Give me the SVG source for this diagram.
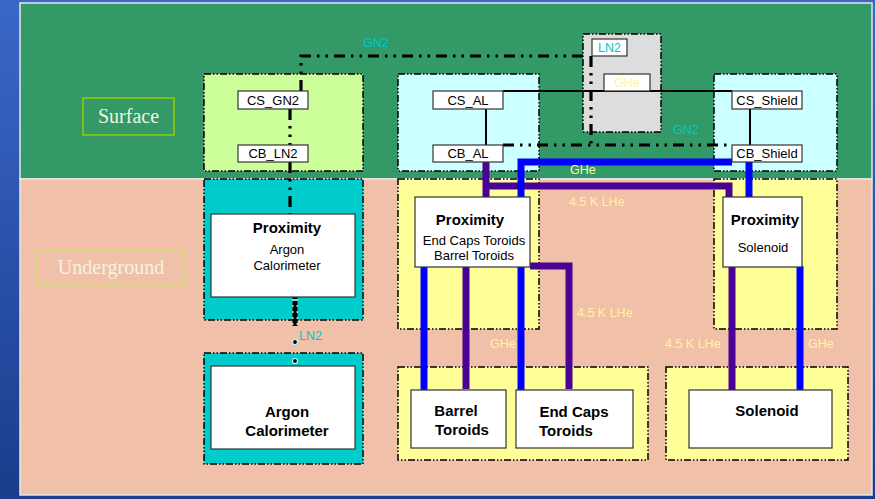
<svg xmlns="http://www.w3.org/2000/svg" width="875" height="499" viewBox="0 0 875 499">
<defs>
<linearGradient id="bg" x1="0" y1="0" x2="0" y2="1">
<stop offset="0" stop-color="#3a68c8"/>
<stop offset="1" stop-color="#1a3c8c"/>
</linearGradient>
<style>
.bd{stroke:#000;stroke-width:1.5;stroke-dasharray:7 2 1.5 2 1.5 2;}
.wb{fill:#fff;stroke:#333;stroke-width:1.2;}
.t{font-family:"Liberation Sans",Arial,sans-serif;fill:#000;text-anchor:middle;}
.sm{font-size:13px;}
.b{font-weight:bold;font-size:15px;}
.lbl{font-family:"Liberation Sans",Arial,sans-serif;font-size:12.5px;fill:#fff5a0;}
.cy{font-family:"Liberation Sans",Arial,sans-serif;font-size:12.5px;fill:#00c8c8;}
.gn{fill:none;stroke:#000;stroke-width:3.2;stroke-dasharray:11 6 2.5 6 2.5 6;}
.blu{fill:none;stroke:#0000ff;stroke-width:7;}
.pur{fill:none;stroke:#4b0096;stroke-width:7;}
.sv{font-family:"Liberation Serif","DejaVu Serif",serif;font-size:20px;fill:#f4f4e0;text-anchor:middle;}
</style>
</defs>
<rect x="0" y="0" width="875" height="499" fill="url(#bg)"/>
<rect x="20" y="3" width="852" height="176" fill="#339966" stroke="#e8e8e8" stroke-width="1.5"/>
<rect x="20" y="179" width="852" height="316" fill="#f0c0a8" stroke="#e8e8e8" stroke-width="1.5"/>

<g id="surface-label">
<rect x="83" y="98" width="91" height="37" fill="none" stroke="#99cc00" stroke-width="1.5"/>
<text class="sv" x="128.5" y="123">Surface</text>
</g>
<g id="underground-label">
<rect x="37" y="250" width="148" height="35" fill="none" stroke="#ccdd66" stroke-width="1.5"/>
<text class="sv" x="111" y="274">Underground</text>
</g>

<g id="gn2-group">
<rect class="bd" x="204" y="74" width="159" height="97" fill="#ccff99"/>
</g>
<g id="al-group">
<rect class="bd" x="398" y="74" width="141" height="97" fill="#ccffff"/>
</g>
<g id="ln2-supply">
<rect class="bd" x="583" y="34" width="78" height="98" fill="#dddddd"/>
</g>
<g id="shield-group">
<rect class="bd" x="714" y="74" width="123" height="97" fill="#ccffff"/>
</g>
<g id="prox-argon-group">
<rect class="bd" x="204" y="179" width="159" height="141" fill="#00cccc"/>
</g>
<g id="prox-toroid-group">
<rect class="bd" x="398" y="179" width="141" height="150" fill="#ffff99"/>
</g>
<g id="prox-solenoid-group">
<rect class="bd" x="714" y="179" width="123" height="150" fill="#ffff99"/>
</g>
<g id="argon-group">
<rect class="bd" x="204" y="353" width="159" height="111" fill="#00cccc"/>
</g>
<g id="toroids-group">
<rect class="bd" x="398" y="367" width="250" height="93" fill="#ffff99"/>
</g>
<g id="solenoid-group">
<rect class="bd" x="666" y="367" width="182" height="93" fill="#ffff99"/>
</g>

<g id="connectors">
<path class="gn" d="M301 91 V56 H585"/>
<path class="gn" d="M591 56 V145"/>
<path class="gn" d="M503 145 H730"/>
<path class="gn" d="M290 109 V145"/>
<path class="gn" d="M290 162 V214"/>
<path d="M295 297 V326" fill="none" stroke="#000" stroke-width="5"/>
<path d="M295 299 V326" fill="none" stroke="#bff" stroke-width="6" stroke-dasharray="2 4" stroke-opacity="0.8"/>
<path d="M295 301 V326" fill="none" stroke="#000" stroke-width="3"/>
<circle cx="295" cy="342" r="2.5" fill="#000" stroke="#bff" stroke-width="1.2"/>
<circle cx="295" cy="361" r="2.5" fill="#000" stroke="#bff" stroke-width="1.2"/>
<path d="M503 91 H732" stroke="#000" stroke-width="2" fill="none"/>
<path d="M486 109 V145" stroke="#000" stroke-width="2" fill="none"/>
<path d="M750 109 V145" stroke="#000" stroke-width="2" fill="none"/>
<path class="pur" d="M486 162 V197"/>
<path class="pur" d="M486 186 H729 V197"/>
<path class="blu" d="M732 162 H521 V390"/>
<path class="blu" d="M749 162 V197"/>
<path class="blu" d="M424 267 V390"/>
<path class="pur" d="M466 267 V389"/>
<path class="pur" d="M530 266 H569 V389"/>
<path class="pur" d="M732 267 V390"/>
<path class="blu" d="M800 266 V390"/>
<text class="cy" x="363" y="47">GN2</text>
<text class="cy" x="673" y="134">GN2</text>
<text class="cy" x="299" y="340">LN2</text>
<text class="lbl" x="570" y="174">GHe</text>
<text class="lbl" x="569" y="206">4.5 K LHe</text>
<text class="lbl" x="577" y="317">4.5 K LHe</text>
<text class="lbl" x="490" y="348">GHe</text>
<text class="lbl" x="665" y="348">4.5 K LHe</text>
<text class="lbl" x="808" y="348">GHe</text>
</g>

<g id="cs-gn2"><rect class="wb" x="238" y="91" width="70" height="18"/><text class="t sm" x="273" y="104.5">CS_GN2</text></g>
<g id="cb-ln2"><rect class="wb" x="238" y="145" width="70" height="17"/><text class="t sm" x="273" y="158">CB_LN2</text></g>
<g id="cs-al"><rect class="wb" x="433" y="91" width="70" height="18"/><text class="t sm" x="468" y="104.5">CS_AL</text></g>
<g id="cb-al"><rect class="wb" x="433" y="145" width="70" height="17"/><text class="t sm" x="468" y="158">CB_AL</text></g>
<g id="ln2-box"><rect class="wb" x="592" y="39" width="35" height="17"/><text class="cy" x="609.5" y="52" text-anchor="middle">LN2</text></g>
<g id="ghe-box"><rect class="wb" x="604" y="74" width="46" height="17"/><text class="lbl" x="627" y="87" text-anchor="middle">GHe</text></g>
<g id="cs-shield"><rect class="wb" x="732" y="91" width="70" height="18"/><text class="t sm" x="767" y="104.5">CS_Shield</text></g>
<g id="cb-shield"><rect class="wb" x="732" y="145" width="70" height="17"/><text class="t sm" x="767" y="158">CB_Shield</text></g>

<g id="prox-argon"><rect class="wb" x="211" y="214" width="144" height="83"/>
<text class="t b" x="287" y="233">Proximity</text>
<text class="t sm" x="287" y="254">Argon</text>
<text class="t sm" x="287" y="270">Calorimeter</text></g>
<g id="prox-toroid"><rect class="wb" x="415" y="197" width="115" height="70"/>
<text class="t b" x="470" y="225">Proximity</text>
<text class="t sm" x="474" y="245">End Caps Toroids</text>
<text class="t sm" x="474" y="260">Barrel Toroids</text></g>
<g id="prox-solenoid"><rect class="wb" x="723" y="197" width="79" height="70"/>
<text class="t b" x="765" y="225">Proximity</text>
<text class="t sm" x="763" y="252">Solenoid</text></g>

<g id="argon"><rect class="wb" x="211" y="366" width="144" height="83"/>
<text class="t b" x="287" y="417">Argon</text>
<text class="t b" x="287" y="436">Calorimeter</text></g>
<g id="barrel"><rect class="wb" x="411" y="390" width="95" height="58"/>
<text class="t b" x="456" y="416">Barrel</text>
<text class="t b" x="462" y="435">Toroids</text></g>
<g id="endcaps"><rect class="wb" x="516" y="390" width="117" height="58"/>
<text class="t b" x="574" y="417">End Caps</text>
<text class="t b" x="566" y="436">Toroids</text></g>
<g id="solenoid"><rect class="wb" x="689" y="390" width="143" height="58"/>
<text class="t b" x="767" y="416">Solenoid</text></g>
</svg>
